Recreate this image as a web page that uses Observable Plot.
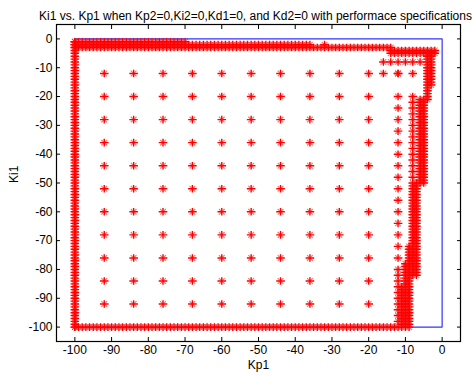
<!DOCTYPE html>
<html><head><meta charset="utf-8">
<script src="https://cdn.jsdelivr.net/npm/d3@7"></script>
<script src="https://cdn.jsdelivr.net/npm/@observablehq/plot@0.6"></script>
<style>body{margin:0;background:#fff}</style>
</head><body><div id="chart"></div>
<script>
// ---- chart text ----
const titleText = "Ki1 vs. Kp1 when Kp2=0,Ki2=0,Kd1=0, and Kd2=0 with performace specifications";
const xLabel = "Kp1";
const yLabel = "Ki1";
const xTicks = [-100,-90,-80,-70,-60,-50,-40,-30,-20,-10,0];
const yTicks = [0,-10,-20,-30,-40,-50,-60,-70,-80,-90,-100];

// ---- search-region box (blue) ----
const boxKp = [-100,0,0,-100,-100];
const boxKi = [0,0,-100,-100,0];

// ---- coarse sweep (interior) ----
const coarseKp = [-92,-84,-76,-68,-60,-52,-44,-36,-28,-20];
const coarseKi = [-12,-20,-28,-36,-44,-52,-60,-68,-76,-84,-92];

// ---- dense sweeps along the region edges ----
const leftEdgeKi = [-1,-2,-3,-4,-5,-6,-7,-8,-9,-10,-11,-12,-13,-14,-15,-16,-17,-18,-19,-20,-21,-22,-23,-24,-25,-26,-27,-28,-29,-30,-31,-32,-33,-34,-35,-36,-37,-38,-39,-40,-41,-42,-43,-44,-45,-46,-47,-48,-49,-50,-51,-52,-53,-54,-55,-56,-57,-58,-59,-60,-61,-62,-63,-64,-65,-66,-67,-68,-69,-70,-71,-72,-73,-74,-75,-76,-77,-78,-79,-80,-81,-82,-83,-84,-85,-86,-87,-88,-89,-90,-91,-92,-93,-94,-95,-96,-97,-98,-99,-100];
const bottomEdgeKp = [-100,-99,-98,-97,-96,-95,-94,-93,-92,-91,-90,-89,-88,-87,-86,-85,-84,-83,-82,-81,-80,-79,-78,-77,-76,-75,-74,-73,-72,-71,-70,-69,-68,-67,-66,-65,-64,-63,-62,-61,-60,-59,-58,-57,-56,-55,-54,-53,-52,-51,-50,-49,-48,-47,-46,-45,-44,-43,-42,-41,-40,-39,-38,-37,-36,-35,-34,-33,-32,-31,-30,-29,-28,-27,-26,-25,-24,-23,-22,-21,-20,-19,-18,-17,-16,-15,-14,-13,-12];
const topRow1Kp = [-100,-99,-98,-97,-96,-95,-94,-93,-92,-91,-90,-89,-88,-87,-86,-85,-84,-83,-82,-81,-80,-79,-78,-77,-76,-75,-74,-73,-72,-71,-70];
const topRow2Kp = [-100,-99,-98,-97,-96,-95,-94,-93,-92,-91,-90,-89,-88,-87,-86,-85,-84,-83,-82,-81,-80,-79,-78,-77,-76,-75,-74,-73,-72,-71,-70,-69,-68,-67,-66,-65,-64,-63,-62,-61,-60,-59,-58,-57,-56,-55,-54,-53,-52,-51,-50,-49,-48,-47,-46,-45,-44,-43,-42,-41,-40,-39,-38,-37,-36,-32];
const topRow3Kp = [-100,-99,-98,-97,-96,-95,-94,-93,-92,-91,-90,-89,-88,-87,-86,-85,-84,-83,-82,-81,-80,-79,-78,-77,-76,-75,-74,-73,-72,-71,-70,-69,-68,-67,-66,-65,-64,-63,-62,-61,-60,-59,-58,-57,-56,-55,-54,-53,-52,-51,-50,-49,-48,-47,-46,-45,-44,-43,-42,-41,-40,-39,-38,-37,-36,-35,-34,-33,-32,-31,-30,-29,-28,-27,-26,-25,-24,-23,-22,-21,-20,-19,-18,-17,-16,-15,-14];
const topRow45Kp = [-14,-13,-12,-11,-10,-9,-8,-7,-6,-5,-4,-3,-2];
const row8Kp = [-16,-14,-12,-10,-8,-6];
const row12Kp = [-16,-12,-8];

// ---- dense sweeps along the right-hand boundary ----
const col3Ki = [-5,-6,-7,-8,-9,-10,-11,-12,-13,-14,-15,-16];
const col4Ki = [-5,-6,-7,-8,-9,-10,-11,-12,-13,-14,-15,-16,-17,-18,-19,-20,-21];
const col56Ki = [-21,-22,-23,-24,-25,-26,-27,-28,-29,-30,-31,-32,-33,-34,-35,-36,-37,-38,-39,-40,-41,-42,-43,-44,-45,-46,-47,-48,-49,-50];
const col78Ki = [-50,-51,-52,-53,-54,-55,-56,-57,-58,-59,-60,-61,-62,-63,-64,-65,-66,-67,-68,-69,-70,-71,-72,-73,-74,-75,-76,-77,-78,-79,-80,-81,-82];
const col8SparseKi = [-20,-22,-24,-26,-28,-30,-32,-34,-36,-38,-40,-42,-44,-46,-48];
const col9Ki = [-72,-73,-74,-75,-76,-77,-78,-79,-80,-81,-82,-83,-84,-85,-86,-87,-88,-89,-90,-91,-92,-93,-94,-95,-96,-97,-98,-99,-100];
const col10Ki = [-78,-79,-80,-81,-82,-83,-84,-85,-86,-87,-88,-89,-90,-91,-92,-93,-94,-95,-96,-97,-98,-99,-100];
const col11Ki = [-86,-87,-88,-89,-90,-91,-92,-93,-94,-95,-96,-97,-98,-99,-100];
const col12Ki = [-12,-20,-24,-28,-32,-36,-40,-44,-48,-52,-56,-60,-64,-68,-72,-76,-80,-82,-84,-86,-88,-90,-92,-94,-96,-98];

// ---- assemble the sample table ----
const pts = [];
const add = (kp, ki) => pts.push({kp, ki});
for (const kp of coarseKp) for (const ki of coarseKi) add(kp, ki);
for (const ki of leftEdgeKi) add(-100, ki);
for (const kp of bottomEdgeKp) add(kp, -100);
for (const kp of topRow1Kp) add(kp, -1);
for (const kp of topRow2Kp) add(kp, -2);
for (const kp of topRow3Kp) add(kp, -3);
for (const kp of topRow45Kp) { add(kp, -4); add(kp, -5); }
for (const kp of row8Kp) add(kp, -8);
for (const kp of row12Kp) add(kp, -12);
for (const ki of col3Ki) add(-3, ki);
for (const ki of col4Ki) add(-4, ki);
for (const ki of col56Ki) { add(-5, ki); add(-6, ki); }
for (const ki of col78Ki) { add(-7, ki); add(-8, ki); }
for (const ki of col8SparseKi) add(-8, ki);
for (const ki of col9Ki) add(-9, ki);
for (const ki of col10Ki) add(-10, ki);
for (const ki of col11Ki) add(-11, ki);
for (const ki of col12Ki) add(-12, ki);

const box = boxKp.map((kp, i) => ({kp, ki: boxKi[i]}));

// MATLAB-like '*' marker, drawn as a strong plus and softer diagonals
const plusArms = {
  draw(ctx, size) {
    const r = Math.sqrt(size / Math.PI);
    ctx.moveTo(-r - 0.5, 0); ctx.lineTo(r + 0.5, 0);
    ctx.moveTo(0, -r); ctx.lineTo(0, r);
  }
};
const diagArms = {
  draw(ctx, size) {
    const d = Math.sqrt(size / Math.PI) * 0.75;
    ctx.moveTo(-d, -d); ctx.lineTo(d, d);
    ctx.moveTo(-d, d); ctx.lineTo(d, -d);
  }
};

const chart = Plot.plot({
  width: 474,
  height: 377,
  marginLeft: 56,
  marginRight: 14,
  marginTop: 24,
  marginBottom: 36,
  style: {fontFamily: "'Liberation Sans', Arial, sans-serif", fontSize: "12px", background: "#fff", color: "#000"},
  x: {domain: [-105, 5]},
  y: {domain: [-105, 5]},
  marks: [
    Plot.line(box, {x: "kp", y: "ki", stroke: "#3333ff", strokeWidth: 1.2}),
    Plot.dot(pts, {x: "kp", y: "ki", symbol: diagArms, r: 3.8, fill: "none", stroke: "#ff0000", strokeOpacity: 0.55, strokeWidth: 1.2}),
    Plot.dot(pts, {x: "kp", y: "ki", symbol: plusArms, r: 3.8, fill: "none", stroke: "#ff0000", strokeWidth: 1.4}),
    Plot.frame({stroke: "#000", strokeWidth: 1.2}),
    Plot.axisX(xTicks, {anchor: "bottom", tickSize: -4, tickPadding: 8, label: null, tickFormat: d => String(d)}),
    Plot.axisX(xTicks, {anchor: "top", tickSize: -4, label: null, tickFormat: () => ""}),
    Plot.axisY(yTicks, {anchor: "left", tickSize: -4, tickPadding: 8, label: null, tickFormat: d => String(d)}),
    Plot.axisY(yTicks, {anchor: "right", tickSize: -4, label: null, tickFormat: () => ""}),
    Plot.text([titleText], {frameAnchor: "top", dy: -13, dx: -3, fontSize: 12}),
    Plot.text([xLabel], {frameAnchor: "bottom", dy: 27, fontSize: 12}),
    Plot.text([yLabel], {frameAnchor: "left", dx: -42, rotate: -90, fontSize: 12})
  ]
});
document.getElementById("chart").append(chart);
</script>
</body></html>
